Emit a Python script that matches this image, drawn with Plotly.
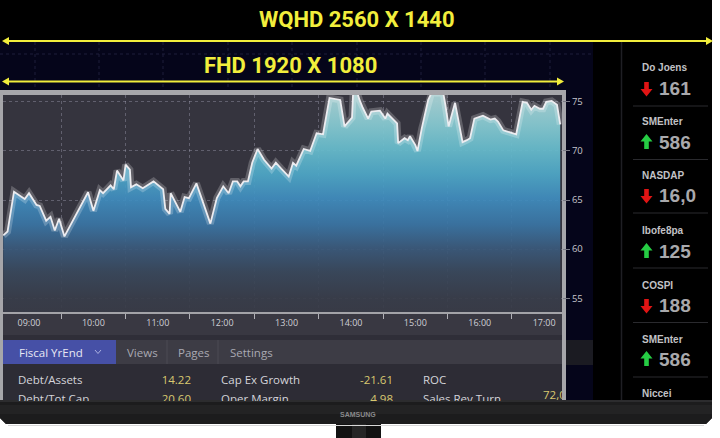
import plotly.graph_objects as go
import pandas as pd

# ---------------- data ----------------
DAY = "2024-01-02 "
TIMES = ["08:36", "08:40", "08:46", "08:56", "09:00", "09:07", "09:10", "09:16", "09:20", "09:24",
         "09:28", "09:33", "09:55", "10:00", "10:06", "10:09", "10:16", "10:19", "10:22", "10:28",
         "10:30", "10:34", "10:35", "10:40", "10:46", "10:56", "11:05", "11:07", "11:11", "11:12",
         "11:21", "11:25", "11:29", "11:36", "11:49", "11:55", "12:01", "12:06", "12:10", "12:14",
         "12:17", "12:20", "12:24", "12:28", "12:33", "12:39", "12:46", "12:50", "12:55", "13:02",
         "13:06", "13:09", "13:16", "13:22", "13:28", "13:34", "13:40", "13:50", "13:54", "14:01",
         "14:02", "14:06", "14:08", "14:11", "14:16", "14:19", "14:27", "14:32", "14:34", "14:43",
         "14:44", "14:50", "14:53", "14:55", "15:00", "15:02", "15:06", "15:12", "15:15", "15:26",
         "15:28", "15:31", "15:37", "15:39", "15:44", "15:48", "15:51", "15:55", "16:03", "16:10",
         "16:14", "16:17", "16:22", "16:25", "16:34", "16:40", "16:44", "16:48", "16:51", "16:56",
         "16:59", "17:02", "17:07", "17:12", "17:15"]
VALUES = [61.4, 61.8, 65.85, 65.1, 65.7, 64.5, 64.4, 62.9, 63.3, 61.9,
          63.1, 61.3, 65.8, 63.9, 66.0, 65.7, 66.5, 66.1, 68.0, 67.0,
          68.6, 68.1, 66.3, 66.6, 66.2, 66.9, 66.1, 64.1, 63.6, 65.7,
          63.8, 65.3, 65.2, 66.7, 62.6, 65.2, 66.4, 65.7, 66.9, 66.9,
          66.4, 66.9, 66.9, 68.8, 70.2, 69.1, 68.2, 68.8, 68.2, 67.4,
          68.8, 68.5, 70.2, 70.0, 71.8, 71.7, 75.4, 75.2, 72.5, 73.4,
          75.9, 75.9, 75.2, 74.4, 73.3, 74.0, 74.1, 73.3, 73.8, 72.8,
          70.8, 71.3, 71.1, 71.5, 70.6, 70.0, 72.3, 75.2, 75.9, 75.9,
          74.7, 72.5, 74.9, 73.7, 70.9, 71.1, 71.3, 73.3, 73.6, 73.2,
          73.3, 73.0, 72.1, 72.0, 71.7, 75.0, 74.9, 74.2, 74.6, 74.3,
          74.3, 75.0, 75.1, 74.7, 72.7]

X_RANGE = ["08:35:45", "17:16:40"]
Y_RANGE = [53.6, 75.7]
HOUR_TICKS = ["09:00", "10:00", "11:00", "12:00", "13:00", "14:00", "15:00", "16:00", "17:00"]
HALF_TICKS = ["09:30", "10:30", "11:30", "12:30", "13:30", "14:30", "15:30", "16:30"]
Y_TICKS = [55, 60, 65, 70, 75]

TICKER_NAMES = ["Do Joens", "SMEnter", "NASDAP", "Ibofe8pa", "COSPI", "SMEnter", "Niccei"]
TICKER_VALUES = ["161", "586", "16,0", "125", "188", "586"]
TICKER_DIRS = ["down", "up", "down", "up", "down", "up"]

TABS = ["Views", "Pages", "Settings"]
ACTIVE_TAB = "Fiscal YrEnd"

COL1_LABELS = ["Debt/Assets", "Debt/Tot Cap"]
COL1_VALUES = ["14.22", "20.60"]
COL2_LABELS = ["Cap Ex Growth", "Oper Margin"]
COL2_VALUES = ["-21.61", "4.98"]
COL3_LABELS = ["ROC", "Sales Rev Turn"]
COL3_EXTRA = ["72,0"]

TITLE_BIG = "WQHD 2560 X 1440"
TITLE_SMALL = "FHD 1920 X 1080"
BRAND = "SAMSUNG"

# ---------------- helpers ----------------
W, H = 720, 438


def X(p):
    return p / W


def Y(p):
    return 1 - p / H


def rect(x0, y0, x1, y1, color, line=None):
    return dict(type="rect", xref="paper", yref="paper", x0=X(x0), x1=X(x1), y0=Y(y1), y1=Y(y0),
                fillcolor=color, line=line or dict(width=0), layer="below")


def hline(x0, x1, y, color, width=1, dash="solid"):
    return dict(type="line", xref="paper", yref="paper", x0=X(x0), x1=X(x1), y0=Y(y), y1=Y(y),
                line=dict(color=color, width=width, dash=dash), layer="below")


def vline(x, y0, y1, color, width=1, dash="solid"):
    return dict(type="line", xref="paper", yref="paper", x0=X(x), x1=X(x), y0=Y(y0), y1=Y(y1),
                line=dict(color=color, width=width, dash=dash), layer="below")


def poly(points, color, layer="below"):
    d = "M " + " L ".join(f"{X(a):.5f},{Y(b):.5f}" for a, b in points) + " Z"
    return dict(type="path", xref="paper", yref="paper", path=d, fillcolor=color,
                line=dict(width=0), layer=layer)


def text(t, x, y, size, color, xanchor="left", family="Open Sans, sans-serif", bold=False):
    return dict(text=f"<b>{t}</b>" if bold else t, x=X(x), y=Y(y), xref="paper", yref="paper",
                xanchor=xanchor, yanchor="middle", showarrow=False,
                font=dict(size=size, color=color, family=family))


xs = pd.to_datetime([DAY + t for t in TIMES])

fig = go.Figure()

# area fill with vertical gradient
fig.add_trace(go.Scatter(
    x=xs, y=VALUES, mode="lines", fill="tozeroy", line=dict(width=0, shape="linear"),
    fillgradient=dict(type="vertical", start=Y_RANGE[0], stop=Y_RANGE[1],
                      colorscale=[[0.0, "rgba(56,59,71,0.92)"], [0.06, "rgba(56,61,74,0.92)"],
                                  [0.18, "rgba(57,72,92,0.92)"], [0.29, "rgba(58,90,124,0.92)"],
                                  [0.40, "rgba(58,118,166,0.92)"], [0.52, "rgba(64,142,192,0.92)"],
                                  [0.63, "rgba(78,168,200,0.93)"], [0.75, "rgba(104,188,204,0.94)"],
                                  [0.86, "rgba(134,200,208,0.95)"], [1.0, "rgba(170,208,210,0.97)"]]),
    hoverinfo="skip", showlegend=False))
# glow + line
fig.add_trace(go.Scatter(x=xs, y=VALUES, mode="lines",
                         line=dict(color="rgba(255,255,255,0.22)", width=7),
                         hoverinfo="skip", showlegend=False))
fig.add_trace(go.Scatter(x=xs, y=VALUES, mode="lines",
                         line=dict(color="#ececf0", width=1.8),
                         hoverinfo="skip", showlegend=False))

# table rows (clipped by the lower bezel)
ROW_Y = [381, 400]
tfont = dict(family="Open Sans, sans-serif", size=11.5)
fig.add_trace(go.Scatter(x=[15] * 2, y=ROW_Y, text=COL1_LABELS, mode="text", textposition="middle right",
                         textfont=dict(color="#d4d4da", **tfont), xaxis="x2", yaxis="y2",
                         cliponaxis=True, hoverinfo="skip", showlegend=False))
fig.add_trace(go.Scatter(x=[188] * 2, y=ROW_Y, text=COL1_VALUES, mode="text", textposition="middle left",
                         textfont=dict(color="#d8c870", **tfont), xaxis="x2", yaxis="y2",
                         cliponaxis=True, hoverinfo="skip", showlegend=False))
fig.add_trace(go.Scatter(x=[218] * 2, y=ROW_Y, text=COL2_LABELS, mode="text", textposition="middle right",
                         textfont=dict(color="#d4d4da", **tfont), xaxis="x2", yaxis="y2",
                         cliponaxis=True, hoverinfo="skip", showlegend=False))
fig.add_trace(go.Scatter(x=[390] * 2, y=ROW_Y, text=COL2_VALUES, mode="text", textposition="middle left",
                         textfont=dict(color="#d8c870", **tfont), xaxis="x2", yaxis="y2",
                         cliponaxis=True, hoverinfo="skip", showlegend=False))
fig.add_trace(go.Scatter(x=[420] * 2, y=ROW_Y, text=COL3_LABELS, mode="text", textposition="middle right",
                         textfont=dict(color="#d4d4da", **tfont), xaxis="x2", yaxis="y2",
                         cliponaxis=True, hoverinfo="skip", showlegend=False))
fig.add_trace(go.Scatter(x=[540], y=[396], text=COL3_EXTRA, mode="text", textposition="middle right",
                         textfont=dict(color="#d8c870", **tfont), xaxis="x2", yaxis="y2",
                         cliponaxis=True, hoverinfo="skip", showlegend=False))

# ---------------- decoration shapes ----------------
shapes = []
# monitor body
shapes.append(poly([(0, 0), (712, 0), (712, 418), (706, 424), (6, 424), (0, 418)], "#000000"))
# navy desktop area
shapes.append(rect(0, 42, 593, 401, "#05051a"))
for gx in [35, 99, 163, 228, 292, 357, 421, 485, 550]:
    shapes.append(vline(gx, 42, 90, "#1e1e3a", 1, "dot"))
shapes.append(hline(0, 593, 54, "#1e1e3a", 1, "dot"))
# window frame
shapes.append(rect(0, 90, 566, 401, "#a6a6aa"))
shapes.append(rect(3, 95, 562, 312, "#35343e"))
shapes.append(rect(3, 312, 562, 335, "#393842"))
shapes.append(rect(3, 335, 562, 340, "#2f2e38"))
shapes.append(rect(3, 340, 562, 364, "#3d3c45"))
shapes.append(rect(3, 340, 116, 364, "#4650a6"))
shapes.append(vline(167, 340, 364, "#4c4b54", 1))
shapes.append(vline(218, 340, 364, "#4c4b54", 1))
shapes.append(rect(3, 364, 562, 401, "#2d2c35"))
# chevron on active tab
shapes.append(dict(type="path", xref="paper", yref="paper",
                   path=f"M {X(95):.5f},{Y(350):.5f} L {X(98):.5f},{Y(353.5):.5f} L {X(101):.5f},{Y(350):.5f}",
                   line=dict(color="#aab0e0", width=1), layer="below"))
# dark strip right of frame
shapes.append(rect(566, 340, 593, 365, "#1b1b22"))
# ticker panel divider and separators
shapes.append(vline(621.5, 42, 401, "#1f1f24", 1.5))
for sy in [106, 159.5, 213, 268, 322.5, 377]:
    shapes.append(hline(633, 708, sy, "#2a2a2e", 1))
# yellow dimension arrows
YEL = "#f2ee3c"
shapes.append(hline(6, 709, 41, YEL, 2))
shapes.append(poly([(2, 41), (9, 37), (9, 45)], YEL))
shapes.append(poly([(713, 41), (706, 37), (706, 45)], YEL))
shapes.append(hline(6, 560, 81.5, YEL, 2))
shapes.append(poly([(2, 81.5), (9, 77.5), (9, 85.5)], YEL))
shapes.append(poly([(564, 81.5), (557, 77.5), (557, 85.5)], YEL))
# ticker arrows
VAL_Y = [88, 142, 195, 251, 305, 359]
for d, vy in zip(TICKER_DIRS, VAL_Y):
    cx = 646.5
    if d == "down":
        pts = [(cx - 2.3, vy - 6), (cx + 2.3, vy - 6), (cx + 2.3, vy + 1), (cx + 6, vy + 1),
               (cx, vy + 8.5), (cx - 6, vy + 1), (cx - 2.3, vy + 1)]
        shapes.append(poly(pts, "#e01414"))
    else:
        pts = [(cx - 2.3, vy + 7), (cx + 2.3, vy + 7), (cx + 2.3, vy - 0.5), (cx + 6, vy - 0.5),
               (cx, vy - 8), (cx - 6, vy - 0.5), (cx - 2.3, vy - 0.5)]
        shapes.append(poly(pts, "#26cc44"))
# bezel + stand
shapes.append(poly([(0, 400), (712, 400), (712, 418), (706, 424), (6, 424), (0, 418)], "#1c1c1d"))
shapes.append(rect(0, 400, 712, 402, "#2c2c2e"))
shapes.append(rect(0, 405, 712, 414, "#232324"))
shapes.append(rect(336, 424, 381, 438, "#121212"))
shapes.append(rect(352, 424, 366, 438, "#262626"))
shapes.append(hline(8, 704, 425.5, "#d8d8d8", 1))

# ---------------- annotations ----------------
ann = []
ann.append(text(TITLE_BIG, 357, 19, 22, YEL, "center", "Liberation Sans Narrow, Arial Narrow, Roboto, sans-serif", True))
ann.append(text(TITLE_SMALL, 290, 66, 22, YEL, "center", "Liberation Sans Narrow, Arial Narrow, Roboto, sans-serif", True))
ann.append(text(ACTIVE_TAB, 17, 352, 11.5, "#e8e8f4"))
for t, tx in zip(TABS, [125, 176, 228]):
    ann.append(text(t, tx, 352, 11.5, "#a9a9b2"))
NAME_Y = [67, 121, 175, 230, 285, 339, 393]
for n, ny in zip(TICKER_NAMES, NAME_Y):
    ann.append(text(n, 640, ny, 10, "#c2c2c6", "left", "Liberation Sans, Arial, sans-serif", True))
for v, vy in zip(TICKER_VALUES, VAL_Y):
    ann.append(text(v, 657, vy, 19, "#a9a9ac", "left", "Liberation Sans, Arial, sans-serif", True))
ann.append(text(BRAND, 358, 414, 7, "#8a8a8c", "center", "Liberation Sans, Arial, sans-serif", True))

fig.update_layout(
    width=W, height=H, margin=dict(l=0, r=0, t=0, b=0, pad=0),
    paper_bgcolor="#ffffff", plot_bgcolor="rgba(0,0,0,0)",
    shapes=shapes, annotations=ann, showlegend=False,
    xaxis=dict(domain=[X(3), X(562)], type="date",
               range=[DAY + X_RANGE[0], DAY + X_RANGE[1]],
               tickvals=[DAY + t for t in HOUR_TICKS], ticktext=HOUR_TICKS,
               ticks="", showgrid=False, zeroline=False,
               showline=True, linecolor="#a3a3a8", linewidth=2,
               tickfont=dict(family="Open Sans, sans-serif", size=9, color="#cfcfd6"),
               ticklabelstandoff=1,
               minor=dict(tickvals=[DAY + t for t in HALF_TICKS], ticks="outside", ticklen=5,
                          tickcolor="#b0b0b6", tickwidth=1.2, showgrid=True, griddash="dot",
                          gridcolor="rgba(180,180,200,0.35)", gridwidth=1),
               fixedrange=True),
    yaxis=dict(domain=[Y(312), Y(95)], range=Y_RANGE, side="right",
               tickvals=Y_TICKS, ticks="outside", ticklen=7, tickcolor="#7a7a84", tickwidth=1,
               tickfont=dict(family="Open Sans, sans-serif", size=9.5, color="#c6c6cc"),
               showgrid=True, griddash="dot", gridcolor="rgba(180,180,200,0.35)", gridwidth=1,
               zeroline=False, showline=False, fixedrange=True),
    xaxis2=dict(domain=[X(3), X(562)], range=[0, 559], visible=False, fixedrange=True, anchor="y2"),
    yaxis2=dict(domain=[Y(401), Y(364)], range=[401, 364], visible=False, fixedrange=True, anchor="x2"),
)

fig.write_html("out.html", config={"displayModeBar": False},
               post_script="document.body.style.margin='0';document.body.style.overflow='hidden';")
